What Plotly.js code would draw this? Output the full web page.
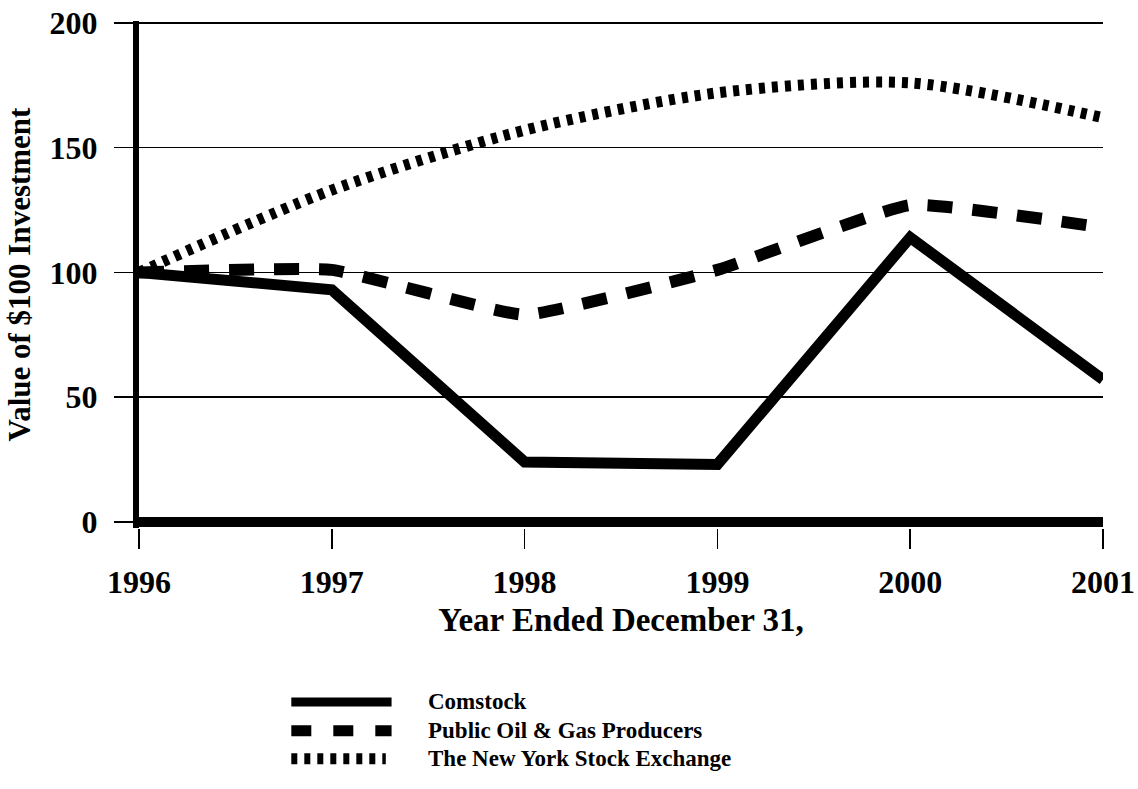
<!DOCTYPE html>
<html><head><meta charset="utf-8">
<script src="https://cdn.plot.ly/plotly-3.0.1.min.js"></script>
<style>body{margin:0;background:#fff}#chart{width:1138px;height:789px}</style>
</head><body><div id="chart"></div>
<script>
const years = [1996, 1997, 1998, 1999, 2000, 2001];
const comstock = [100, 93, 24, 23, 114, 57];
const oilGas = [100, 101, 83, 101, 127, 118];
const nyse = [100, 133, 157, 172, 176, 162];
const seriesNames = ['Comstock', 'Public Oil & Gas Producers', 'The New York Stock Exchange'];
const yTicks = [0, 50, 100, 150, 200];
const xTitle = 'Year Ended December 31,';
const yTitle = 'Value of $100 Investment';

const serif = 'Liberation Serif, Times New Roman, serif';
const styles = [
  {width: 11, dash: 'solid', shape: 'linear', smoothing: 0},
  {width: 12, dash: '25px,20px', shape: 'spline', smoothing: 0.35},
  {width: 11, dash: '6px,7px', shape: 'spline', smoothing: 0.8}
];
const values = [comstock, oilGas, nyse];

const traces = values.map((v, i) => ({
  x: years, y: v, name: seriesNames[i], type: 'scatter', mode: 'lines',
  line: {color: '#000', width: styles[i].width, dash: styles[i].dash, shape: styles[i].shape, smoothing: styles[i].smoothing || 1},
  hoverinfo: 'x+y+name'
}));

// legend drawn in paper coordinates
const legRows = [-0.343, -0.400, -0.455];
const legEnd = [0.262, 0.262, 0.256];
const legDash = ['solid', '20px,22px', '6px,7px'];
const shapes = [];
const annotations = [];
seriesNames.forEach((n, i) => {
  shapes.push({type: 'line', xref: 'paper', yref: 'paper', x0: 0.158, x1: legEnd[i], y0: legRows[i], y1: legRows[i],
    line: {color: '#000', width: i === 0 ? 9 : 11, dash: legDash[i]}});
  annotations.push({xref: 'paper', yref: 'paper', x: 0.298, y: legRows[i], xanchor: 'left', yanchor: 'middle',
    text: n, showarrow: false, font: {family: serif, size: 23, color: '#000', weight: 'bold'}});
});

const layout = {
  width: 1138, height: 789,
  margin: {l: 139, r: 35, t: 21, b: 261},
  paper_bgcolor: '#fff', plot_bgcolor: '#fff',
  showlegend: false,
  font: {family: serif, color: '#000'},
  xaxis: {
    range: [1996, 2001], tickvals: years, ticktext: years.map(String),
    ticks: 'outside', ticklen: 20, tickwidth: 1.5, tickcolor: '#000',
    showgrid: false, zeroline: false, showline: false,
    tickfont: {family: serif, size: 32, color: '#000', weight: 'bold'},
    ticklabelstandoff: 6,
    title: {text: xTitle, font: {family: serif, size: 33, color: '#000', weight: 'bold'}, standoff: 8}
  },
  yaxis: {
    range: [-2.5, 200.8], tickvals: yTicks, ticktext: yTicks.map(String),
    ticks: 'outside', ticklen: 19, tickwidth: 1.5, tickcolor: '#000',
    showgrid: true, gridcolor: '#000', gridwidth: 1.5,
    zeroline: true, zerolinecolor: '#000', zerolinewidth: 10,
    showline: true, linecolor: '#000', linewidth: 6,
    tickfont: {family: serif, size: 32, color: '#000', weight: 'bold'},
    ticklabelstandoff: 10,
    title: {text: yTitle, font: {family: serif, size: 31, color: '#000', weight: 'bold'}, standoff: 12}
  },
  shapes: shapes,
  annotations: annotations
};

Plotly.newPlot('chart', traces, layout, {displayModeBar: false, staticPlot: true});
</script>
</body></html>
